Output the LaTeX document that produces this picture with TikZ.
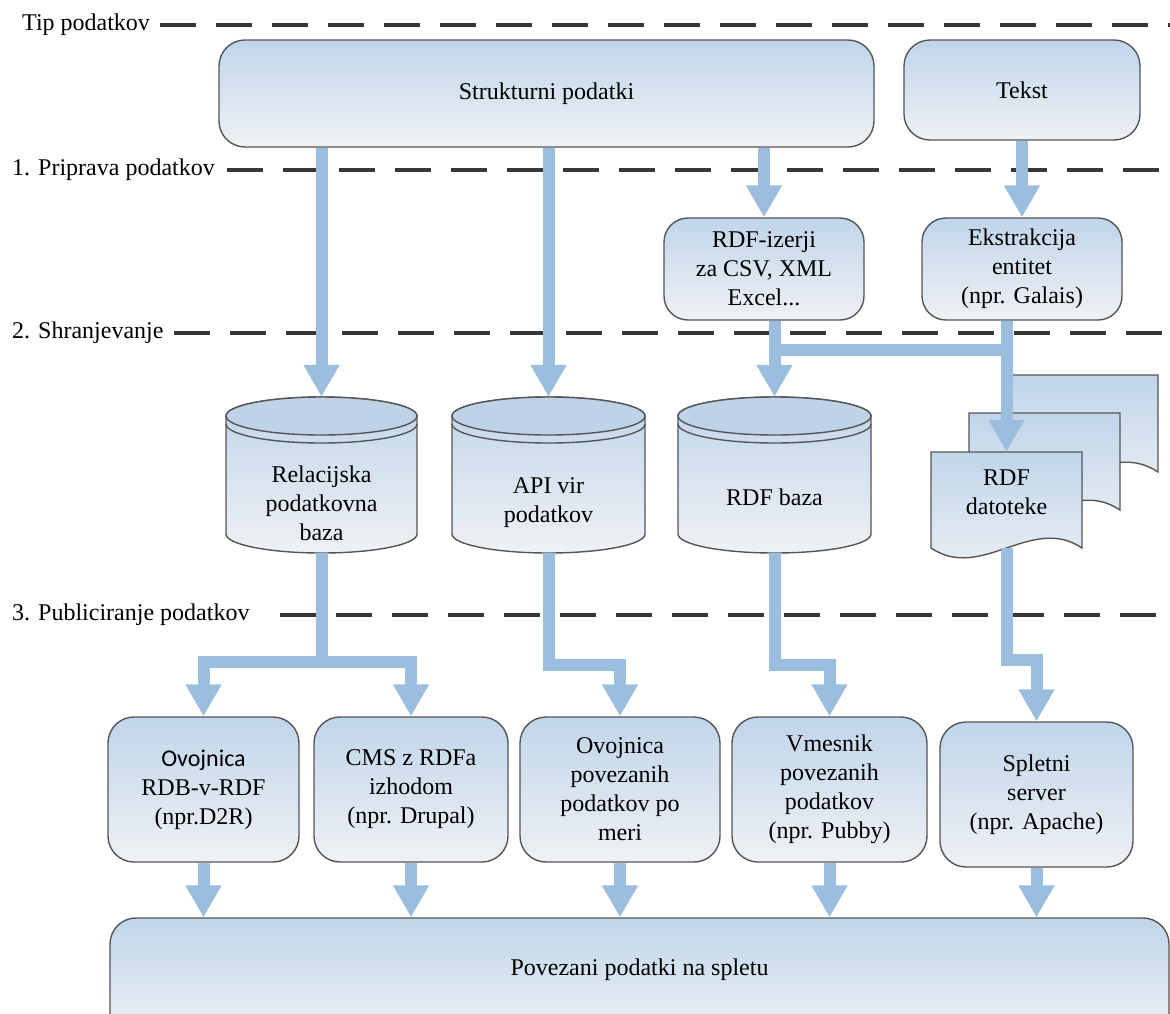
\documentclass[tikz,border=0pt]{standalone}
\usepackage{fontspec}
\setmainfont{Liberation Serif}
\newfontfamily\serf{Liberation Serif}
\newfontfamily\sansf{Carlito}
\usetikzlibrary{arrows.meta,calc}
\definecolor{flowc}{RGB}{155,190,222}
\definecolor{boxtop}{RGB}{192,213,234}
\definecolor{boxbot}{RGB}{239,241,244}
\definecolor{edgec}{RGB}{85,85,85}
\definecolor{dashc}{RGB}{55,55,55}
\definecolor{cyltop}{RGB}{190,211,232}
\newcommand\drawcyl[4]{%
  \path[draw=edgec, line width=1.4pt, top color=boxtop, bottom color=boxbot]
    ({#1-#4},{-#2-19}) -- ({#1-#4},{-#3+19})
    arc[start angle=180, end angle=360, x radius=#4pt, y radius=19pt]
    -- ({#1+#4},{-#2-19})
    arc[start angle=0, end angle=180, x radius=#4pt, y radius=19pt] -- cycle;
  \path[draw=edgec, line width=1.4pt, fill=cyltop] (#1,{-#2-19}) ellipse[x radius=#4pt, y radius=19pt];
  \draw[edgec, line width=1.4pt] ({#1-#4},{-#2-27}) arc[start angle=180, end angle=360, x radius=#4pt, y radius=19pt];
}
\newcommand\docpage[4]{%
  \path[draw=edgec, line width=1.4pt, top color=boxtop, bottom color=boxbot]
    (#1,-#3) -- (#2,-#3) -- (#2,-#4)
    .. controls ({#2-(#2-#1)/3},{-#4+34}) and ({#1+(#2-#1)/3},{-#4-34}) .. (#1,-#4) -- cycle;
}
\begin{document}
\begin{tikzpicture}[x=1pt,y=1pt,
  every node/.style={font=\serf\fontsize{24}{29}\selectfont},
  rbox/.style={draw=edgec, line width=1.4pt, rounded corners=26pt, top color=boxtop, bottom color=boxbot, align=center, inner sep=0pt},
  flow/.style={draw=flowc, line width=12pt, -{Triangle[width=34pt,length=32pt]}},
  flowplain/.style={draw=flowc, line width=12pt},
  sepline/.style={draw=dashc, line width=4pt, dash pattern=on 36pt off 20pt},
  lab/.style={anchor=west, inner sep=0pt},
  shapebox/.style={inner sep=0pt, draw=none},
  txt/.style={align=center, inner sep=0pt}
]
\useasboundingbox (0,0) rectangle (1170,-1013);
\clip (0,0) rectangle (1170,-1013);
\coordinate (R) at (1175,0);

% stage labels and separators
\node[lab] (l0) at (22,-25) {Tip podatkov};
\node[lab] (l1) at (12,-170) {1. Priprava podatkov};
\node[lab] (l2) at (12,-333) {2. Shranjevanje};
\node[lab] (l3) at (12,-615) {3. Publiciranje podatkov};
\draw[sepline] ([xshift=10pt]l0.east) -- (l0.east -| R);
\draw[sepline] ([xshift=12pt]l1.east) -- (l1.east -| R);
\draw[sepline] ([xshift=10pt]l2.east) -- (l2.east -| R);
\draw[sepline] ([xshift=30pt]l3.east) -- (l3.east -| R);

% data type
\node[rbox, minimum width=655pt, minimum height=107pt] (struk) at (546.5,-93.5) {Strukturni podatki};
\node[rbox, minimum width=236pt, minimum height=100pt] (tekst) at (1022,-90) {Tekst};

% preparation
\node[rbox, rounded corners=24pt, minimum width=200pt, minimum height=102pt] (izer) at (764,-269) {RDF-izerji\\za CSV, XML\\Excel...};
\node[rbox, rounded corners=24pt, minimum width=200pt, minimum height=102pt] (ekstr) at (1022,-269) {Ekstrakcija\\entitet\\(npr. Galais)};

% storage
\node[shapebox, minimum width=191pt, minimum height=156pt] (rel) at (321.5,-475) {};
\node[shapebox, minimum width=193pt, minimum height=156pt] (api) at (548.5,-475) {};
\node[shapebox, minimum width=193pt, minimum height=156pt] (rdfb) at (774.5,-475) {};
\drawcyl{321.5}{397}{553}{95.5}
\drawcyl{548.5}{397}{553}{96.5}
\drawcyl{774.5}{397}{553}{96.5}
\node[txt] (relt) at (321.5,-503) {Relacijska\\podatkovna\\baza};
\node[txt] (apit) at (548.5,-503) {API vir\\podatkov};
\node[txt] (rdfbt) at (774.5,-497) {RDF baza};

\docpage{1007}{1158}{375}{472}
\docpage{969}{1120}{413}{510}
\docpage{931}{1082}{452}{548}
\node[shapebox, minimum width=151pt, minimum height=96pt] (rdff) at (1006.5,-500) {};
\node[txt] (rdfft) at (1006.5,-492) {RDF\\datoteke};

% publishing
\node[rbox, minimum width=191pt, minimum height=145pt] (ovo) at (203.5,-789.5) {{\sansf Ovojnica}\\RDB-v-RDF\\(npr.D2R)};
\node[rbox, minimum width=194pt, minimum height=145pt] (cms) at (411,-789.5) {CMS z RDFa\\izhodom\\(npr. Drupal)};
\node[rbox, minimum width=200pt, minimum height=145pt] (ovo2) at (620,-789.5) {Ovojnica\\povezanih\\podatkov po\\meri};
\node[rbox, minimum width=195pt, minimum height=145pt] (vmes) at (829.5,-789.5) {Vmesnik\\povezanih\\podatkov\\(npr. Pubby)};
\node[rbox, minimum width=193pt, minimum height=145pt] (splet) at (1036.5,-794.5) {Spletni\\server\\(npr. Apache)};

\node[rbox, minimum width=1059pt, minimum height=122pt] (web) at (639.5,-979) {};
\node[txt] (webt) at (639.5,-970) {Povezani podatki na spletu};

% connectors
\draw[flow] (struk.south -| rel.north) -- (rel.north);
\draw[flow] (struk.south -| api.north) -- (api.north);
\draw[flow] (struk.south -| izer.north) -- (izer.north);
\draw[flow] (tekst.south) -- (ekstr.north);
\draw[flow] (izer.south -| rdfb.north) -- (rdfb.north);
\draw[flowplain] ($(izer.south -| rdfb.north)+(0,-29)$) -- ($(ekstr.south -| rdff.north)+(0,-29)$);
\draw[flow] (ekstr.south -| rdff.north) -- (rdff.north);

\draw[flow] (rel.south) -- ++(0,-109) -| (ovo.north);
\draw[flow] (rel.south) -- ++(0,-109) -| (cms.north);
\draw[flow] (api.south) -- ++(0,-112) -| (ovo2.north);
\draw[flow] (rdfb.south) -- ++(0,-112) -| (vmes.north);
\draw[flow] (rdff.south) -- ++(0,-112) -| (splet.north);

\foreach \n in {ovo,cms,ovo2,vmes,splet}
  \draw[flow] (\n.south) -- (\n.south |- web.north);
\end{tikzpicture}
\end{document}
